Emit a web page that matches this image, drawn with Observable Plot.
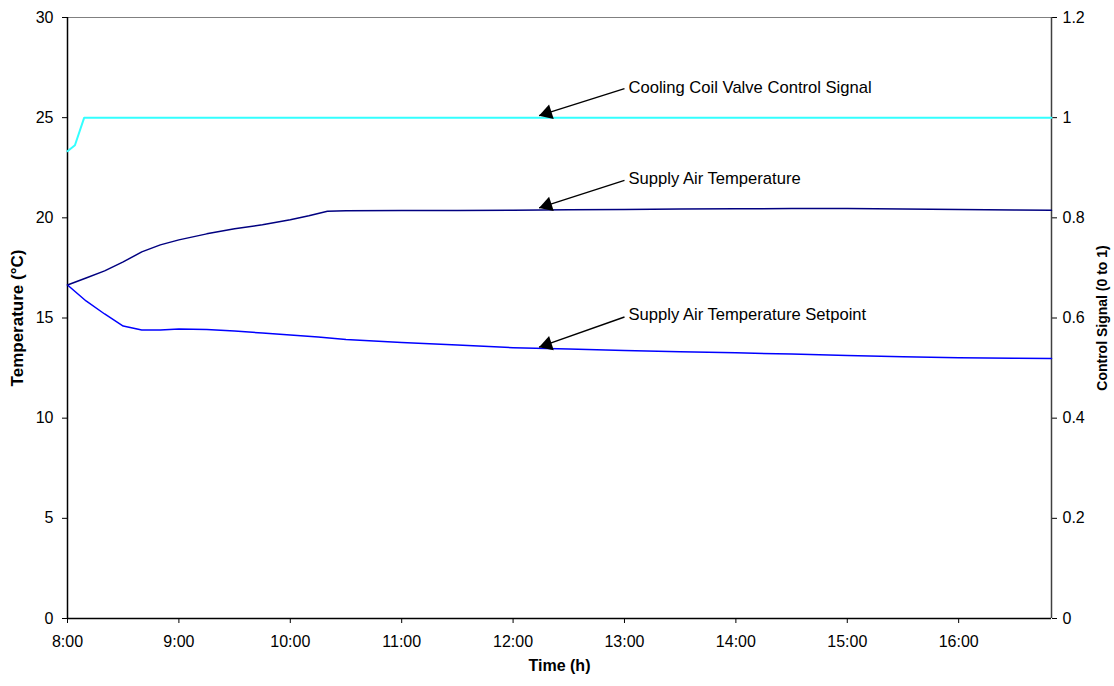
<!DOCTYPE html>
<html>
<head>
<meta charset="utf-8">
<script src="https://cdn.jsdelivr.net/npm/d3@7"></script>
<script src="https://cdn.jsdelivr.net/npm/@observablehq/plot@0.6"></script>
<style>
  html, body { margin: 0; padding: 0; background: #fff; }
  #chart { width: 1114px; height: 686px; }
</style>
</head>
<body>
<div id="chart"></div>
<script>
// ---- Data ----
const supplyTimes = ["8:00","8:10","8:20","8:30","8:40","8:50","9:00","9:15","9:30","9:45","10:00","10:10","10:20","10:30","11:00","11:30","12:00","12:30","13:00","13:30","14:00","14:30","15:00","15:30","16:00","16:30","16:50"];
const supplyTemp = [16.65,17.0,17.35,17.8,18.3,18.65,18.9,19.2,19.45,19.65,19.9,20.1,20.33,20.35,20.37,20.37,20.38,20.40,20.42,20.44,20.45,20.46,20.46,20.44,20.41,20.39,20.38];

const setpointTimes = ["8:00","8:10","8:20","8:30","8:40","8:50","9:00","9:15","9:30","9:45","10:00","10:15","10:30","11:00","11:30","12:00","12:30","13:00","13:30","14:00","14:30","15:00","15:30","16:00","16:30","16:50"];
const setpointTemp = [16.65,15.85,15.2,14.6,14.4,14.4,14.45,14.42,14.35,14.25,14.15,14.05,13.93,13.78,13.65,13.52,13.45,13.38,13.32,13.26,13.2,13.13,13.07,13.02,12.99,12.98];

const controlTimes = ["8:00","8:04","8:09","16:50"];
const controlSignal = [0.933,0.945,1.0,1.0];

const annotationLabels = ["Cooling Coil Valve Control Signal","Supply Air Temperature","Supply Air Temperature Setpoint"];
const annotationTipTime = "12:14";
const annotationTailTime = "13:00";
const annotationTipTemp = [25.1,20.5,13.55];
const annotationTailTemp = [26.45,21.87,15.05];
const annotationLabelTemp = [26.5,21.95,15.15];

const hourTicks = [8,9,10,11,12,13,14,15,16];
const tempTicks = [0,5,10,15,20,25,30];
const signalPerTemp = 1/25; // right axis 0..1.2 maps onto 0..30

// ---- helpers ----
const toHours = s => { const [h,m] = s.split(":").map(Number); return h + m/60; };
const supply = supplyTimes.map((t,i) => ({x: toHours(t), y: supplyTemp[i]}));
const setpoint = setpointTimes.map((t,i) => ({x: toHours(t), y: setpointTemp[i]}));
const control = controlTimes.map((t,i) => ({x: toHours(t), y: controlSignal[i] / signalPerTemp}));
const notes = annotationLabels.map((label,i) => ({
  label,
  tipX: toHours(annotationTipTime), tipY: annotationTipTemp[i],
  tailX: toHours(annotationTailTime), tailY: annotationTailTemp[i],
  labelY: annotationLabelTemp[i]
}));
const xEnd = toHours(controlTimes[controlTimes.length-1]);
const xStart = toHours(controlTimes[0]);

const chart = Plot.plot({
  width: 1114,
  height: 686,
  marginLeft: 67,
  marginRight: 63,
  marginTop: 17,
  marginBottom: 68,
  style: {fontFamily: "'Liberation Sans', Arial, sans-serif", fontSize: "16px", color: "#000", background: "#fff"},
  x: {domain: [xStart, xEnd]},
  y: {domain: [0, 30]},
  marks: [
    Plot.axisX({ticks: hourTicks, tickFormat: d => `${d}:00`, tickSize: 5, tickPadding: 12, label: null, fontSize: 16, stroke: "#000"}),
    Plot.axisY({ticks: tempTicks, tickFormat: d => `${d}`, tickSize: 5, tickPadding: 9, label: null, fontSize: 16, stroke: "#000"}),
    Plot.axisY({anchor: "right", ticks: tempTicks, tickFormat: d => `${+(d*signalPerTemp).toFixed(2)}`, tickSize: 5, tickPadding: 6, label: null, fontSize: 16, stroke: "#000"}),
    // frame
    Plot.ruleY([30], {stroke: "#808080", strokeWidth: 1}),
    Plot.ruleX([xEnd], {stroke: "#404040", strokeWidth: 1.5}),
    Plot.ruleX([xStart], {stroke: "#000", strokeWidth: 1.5}),
    Plot.ruleY([0], {stroke: "#000", strokeWidth: 1.5}),
    // series
    Plot.line(control, {x: "x", y: "y", stroke: "#33ffff", strokeWidth: 2}),
    Plot.line(setpoint, {x: "x", y: "y", stroke: "#0000ff", strokeWidth: 1.5}),
    Plot.line(supply, {x: "x", y: "y", stroke: "#000080", strokeWidth: 1.5}),
    // annotations
    Plot.link(notes, {x1: "tailX", y1: "tailY", x2: "tipX", y2: "tipY", stroke: "#000", strokeWidth: 1.4}),
    Plot.dot(notes, {x: "tipX", y: "tipY", symbol: "triangle", r: 5.6, fill: "#000", stroke: "none", rotate: 252, dx: 8.2, dy: -2.6}),
    Plot.text(notes, {x: "tailX", y: "labelY", text: "label", textAnchor: "start", dx: 4, fontSize: 16.6, fill: "#000"}),
    // axis titles
    Plot.text(["Time (h)"], {frameAnchor: "bottom", textAnchor: "middle", dy: 52, fontSize: 16, fontWeight: "bold", fill: "#000"}),
    Plot.text(["Temperature (°C)"], {frameAnchor: "left", textAnchor: "middle", rotate: -90, dx: -50, fontSize: 17, fontWeight: "bold", fill: "#000"}),
    Plot.text(["Control Signal (0 to 1)"], {frameAnchor: "right", textAnchor: "middle", rotate: -90, dx: 51, fontSize: 14, fontWeight: "bold", fill: "#000"})
  ]
});
document.getElementById("chart").appendChild(chart);
</script>
</body>
</html>
